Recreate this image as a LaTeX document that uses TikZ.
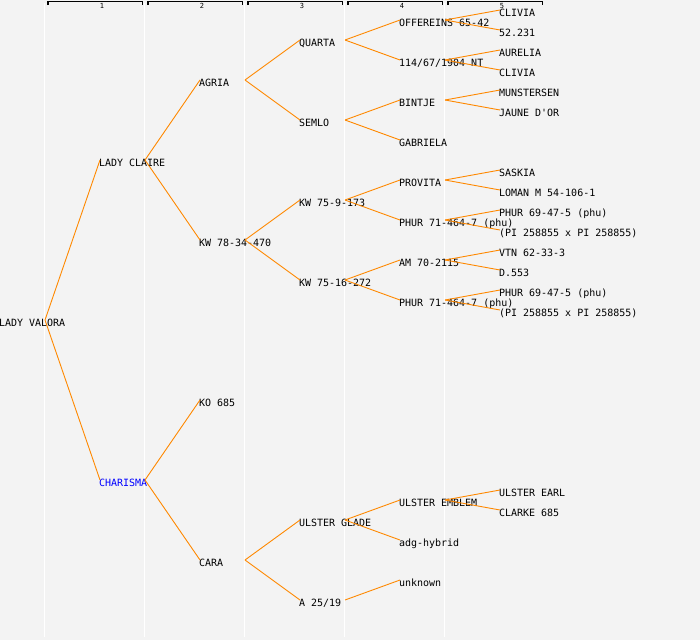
\documentclass[tikz,border=0pt]{standalone}
\usepackage{fontspec}
\setmonofont{DejaVu Sans Mono}
\definecolor{bgc}{HTML}{F3F3F3}
\definecolor{edgec}{HTML}{FF8800}
\definecolor{namec}{HTML}{0000FF}
\tikzset{
  lbl/.style={anchor=base west, inner sep=0pt, outer sep=0pt, font=\ttfamily\fontsize{10}{12}\selectfont, text=black},
  hnum/.style={anchor=base, inner sep=0pt, font=\ttfamily\fontsize{7}{8}\selectfont},
  edge/.style={draw=edgec, line width=0.9pt},
  colsep/.style={draw=white, line width=1pt},
  brk/.style={draw=black, line width=1.2pt},
}
\newcommand{\lk}[2]{\draw[edge] ([xshift=46pt,yshift=6pt]#1.base west) -- ([xshift=1pt,yshift=6pt]#2.base west);}
\begin{document}
\begin{tikzpicture}[x=1pt,y=-1pt]
\fill[bgc] (0,0) rectangle (700,640);
\useasboundingbox (0,0) rectangle (700,640);
% column separators
\foreach \i in {0,...,4} {\draw[colsep] (44.5+100*\i,3) -- (44.5+100*\i,637);}
% header brackets
\foreach \i in {1,...,5} {
  \draw[brk] (100*\i-52,5) -- (100*\i-52,1.5) -- (100*\i+42.5,1.5) -- (100*\i+42.5,5);
  \node[hnum] (h\i) at (100*\i+2,8.5) {\i};
}
% generation 1
\node[lbl] (a) at (-1,326) {LADY VALORA};
% generation 2
\node[lbl] (b0) at (99,166) {LADY CLAIRE};
\node[lbl,text=namec] (b1) at (99,486) {CHARISMA};
% generation 3
\node[lbl] (c0) at (199,86) {AGRIA};
\node[lbl] (c1) at (199,246) {KW 78-34-470};
\node[lbl] (c2) at (199,406) {KO 685};
\node[lbl] (c3) at (199,566) {CARA};
% generation 4
\node[lbl] (d0) at (299,46) {QUARTA};
\node[lbl] (d1) at (299,126) {SEMLO};
\node[lbl] (d2) at (299,206) {KW 75-9-173};
\node[lbl] (d3) at (299,286) {KW 75-16-272};
\node[lbl] (d6) at (299,526) {ULSTER GLADE};
\node[lbl] (d7) at (299,606) {A 25/19};
% generation 5
\node[lbl] (e0) at (399,26) {OFFEREINS 65-42};
\node[lbl] (e1) at (399,66) {114/67/1904 NT};
\node[lbl] (e2) at (399,106) {BINTJE};
\node[lbl] (e3) at (399,146) {GABRIELA};
\node[lbl] (e4) at (399,186) {PROVITA};
\node[lbl] (e5) at (399,226) {PHUR 71-464-7 (phu)};
\node[lbl] (e6) at (399,266) {AM 70-2115};
\node[lbl] (e7) at (399,306) {PHUR 71-464-7 (phu)};
\node[lbl] (e12) at (399,506) {ULSTER EMBLEM};
\node[lbl] (e13) at (399,546) {adg-hybrid};
\node[lbl] (e14) at (399,586) {unknown};
% generation 6
\node[lbl] (f0) at (499,16) {CLIVIA};
\node[lbl] (f1) at (499,36) {52.231};
\node[lbl] (f2) at (499,56) {AURELIA};
\node[lbl] (f3) at (499,76) {CLIVIA};
\node[lbl] (f4) at (499,96) {MUNSTERSEN};
\node[lbl] (f5) at (499,116) {JAUNE D'OR};
\node[lbl] (f8) at (499,176) {SASKIA};
\node[lbl] (f9) at (499,196) {LOMAN M 54-106-1};
\node[lbl] (f10) at (499,216) {PHUR 69-47-5 (phu)};
\node[lbl] (f11) at (499,236) {(PI 258855 x PI 258855)};
\node[lbl] (f12) at (499,256) {VTN 62-33-3};
\node[lbl] (f13) at (499,276) {D.553};
\node[lbl] (f14) at (499,296) {PHUR 69-47-5 (phu)};
\node[lbl] (f15) at (499,316) {(PI 258855 x PI 258855)};
\node[lbl] (f24) at (499,496) {ULSTER EARL};
\node[lbl] (f25) at (499,516) {CLARKE 685};
% connectors
\lk{a}{b0} \lk{a}{b1}
\lk{b0}{c0} \lk{b0}{c1} \lk{b1}{c2} \lk{b1}{c3}
\lk{c0}{d0} \lk{c0}{d1} \lk{c1}{d2} \lk{c1}{d3} \lk{c3}{d6} \lk{c3}{d7}
\lk{d0}{e0} \lk{d0}{e1} \lk{d1}{e2} \lk{d1}{e3} \lk{d2}{e4} \lk{d2}{e5} \lk{d3}{e6} \lk{d3}{e7}
\lk{d6}{e12} \lk{d6}{e13} \lk{d7}{e14}
\lk{e0}{f0} \lk{e0}{f1} \lk{e1}{f2} \lk{e1}{f3} \lk{e2}{f4} \lk{e2}{f5}
\lk{e4}{f8} \lk{e4}{f9} \lk{e5}{f10} \lk{e5}{f11} \lk{e6}{f12} \lk{e6}{f13} \lk{e7}{f14} \lk{e7}{f15}
\lk{e12}{f24} \lk{e12}{f25}
\end{tikzpicture}
\end{document}
